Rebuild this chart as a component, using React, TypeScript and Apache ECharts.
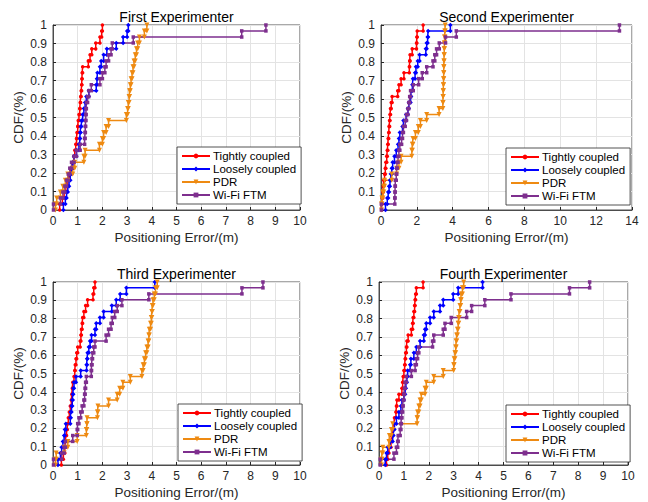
import React, { useEffect, useRef } from "react";
import * as echarts from "echarts";

// CDF levels (31 samples per method)
const cdfLevels = [0.032, 0.065, 0.097, 0.129, 0.161, 0.194, 0.226, 0.258, 0.29, 0.323, 0.355, 0.387, 0.419, 0.452, 0.484, 0.516, 0.548, 0.581, 0.613, 0.645, 0.677, 0.71, 0.742, 0.774, 0.806, 0.839, 0.871, 0.903, 0.935, 0.968, 1.0];

const methodNames = ["Tightly coupled", "Loosely coupled", "PDR", "Wi-Fi FTM"];
const titles = ["First Experimenter", "Second Experimenter", "Third Experimenter", "Fourth Experimenter"];
const xMaxes = [10, 14, 10, 10];
const xIntervals = [1, 2, 1, 1];

// Sorted positioning errors (m) for each experimenter
const s1Tight = [0.27, 0.38, 0.45, 0.52, 0.6, 0.66, 0.72, 0.8, 0.84, 0.88, 0.92, 0.95, 0.97, 1.0, 1.02, 1.05, 1.08, 1.1, 1.12, 1.14, 1.16, 1.17, 1.18, 1.2, 1.43, 1.5, 1.57, 1.73, 1.9, 1.97, 2.0];
const s1Loose = [0.42, 0.5, 0.55, 0.6, 0.65, 0.7, 0.75, 0.8, 0.85, 0.95, 1.05, 1.08, 1.1, 1.12, 1.15, 1.2, 1.25, 1.3, 1.35, 1.45, 1.75, 1.78, 1.8, 1.9, 1.95, 2.05, 2.18, 2.56, 2.84, 3.0, 3.05];
const s1Pdr = [0.1, 0.15, 0.3, 0.4, 0.5, 0.6, 0.8, 0.88, 1.25, 1.3, 1.88, 2.0, 2.05, 2.15, 2.25, 2.97, 3.02, 3.05, 3.08, 3.1, 3.13, 3.16, 3.2, 3.24, 3.28, 3.33, 3.38, 3.43, 3.5, 3.7, 3.8];
const s1Ftm = [0.02, 0.3, 0.4, 0.48, 0.55, 0.62, 0.68, 0.75, 0.85, 0.95, 1.1, 1.28, 1.3, 1.31, 1.32, 1.33, 1.34, 1.35, 1.4, 1.45, 1.55, 1.9, 2.0, 2.1, 2.15, 2.25, 2.35, 2.4, 3.25, 7.64, 8.62];

const s2Tight = [0.03, 0.06, 0.1, 0.13, 0.15, 0.2, 0.24, 0.27, 0.32, 0.35, 0.38, 0.4, 0.43, 0.45, 0.48, 0.5, 0.53, 0.57, 0.62, 0.93, 1.0, 1.12, 1.28, 1.58, 1.6, 1.62, 1.74, 1.98, 2.0, 2.02, 2.35];
const s2Loose = [0.25, 0.35, 0.4, 0.45, 0.5, 0.55, 0.6, 0.65, 0.75, 0.85, 0.95, 1.0, 1.05, 1.2, 1.25, 1.4, 1.5, 1.55, 1.65, 1.68, 1.75, 1.78, 1.9, 1.95, 2.05, 2.15, 2.5, 2.55, 2.6, 2.63, 3.87];
const s2Pdr = [0.03, 0.05, 0.1, 0.15, 0.2, 0.6, 0.87, 1.0, 1.12, 1.72, 1.75, 1.78, 1.92, 2.08, 2.2, 2.55, 3.24, 3.45, 3.46, 3.47, 3.48, 3.49, 3.5, 3.5, 3.51, 3.52, 3.53, 3.54, 3.55, 3.56, 3.58];
const s2Ftm = [0.02, 0.77, 0.78, 0.79, 0.8, 0.85, 0.88, 0.9, 0.95, 1.0, 1.05, 1.15, 1.2, 1.25, 1.35, 1.42, 1.5, 1.55, 1.6, 1.65, 1.8, 2.1, 2.3, 2.55, 2.9, 3.0, 3.1, 3.25, 3.6, 4.2, 13.3];

const s3Tight = [0.34, 0.42, 0.48, 0.5, 0.52, 0.55, 0.58, 0.62, 0.66, 0.7, 0.74, 0.76, 0.78, 0.8, 0.85, 0.88, 0.9, 0.93, 0.96, 1.0, 1.1, 1.13, 1.15, 1.18, 1.2, 1.25, 1.32, 1.4, 1.62, 1.65, 1.7];
const s3Loose = [0.2, 0.3, 0.35, 0.4, 0.45, 0.48, 0.52, 0.7, 0.72, 0.75, 0.78, 0.8, 0.82, 0.85, 0.93, 1.12, 1.36, 1.38, 1.4, 1.45, 1.5, 1.56, 1.7, 1.75, 1.9, 2.05, 2.38, 2.56, 2.72, 2.97, 4.12];
const s3Pdr = [0.1, 0.13, 0.45, 0.6, 0.98, 1.35, 1.37, 1.38, 1.8, 1.82, 2.25, 2.6, 2.7, 2.83, 3.13, 3.6, 3.65, 3.7, 3.75, 3.8, 3.85, 3.88, 3.9, 3.95, 3.98, 4.0, 4.02, 4.05, 4.1, 4.15, 4.22];
const s3Ftm = [0.02, 0.35, 0.45, 0.5, 0.8, 0.98, 1.0, 1.05, 1.12, 1.18, 1.25, 1.28, 1.3, 1.32, 1.35, 1.55, 1.56, 1.58, 1.6, 1.65, 1.7, 2.15, 2.25, 2.35, 2.4, 2.5, 2.6, 2.79, 3.88, 7.65, 8.5];

const s4Tight = [0.3, 0.35, 0.4, 0.48, 0.5, 0.55, 0.6, 0.62, 0.68, 0.7, 0.72, 0.8, 0.92, 0.95, 0.97, 1.0, 1.03, 1.05, 1.07, 1.1, 1.12, 1.17, 1.3, 1.35, 1.37, 1.4, 1.43, 1.45, 1.47, 1.5, 1.77];
const s4Loose = [0.25, 0.3, 0.35, 0.45, 0.55, 0.58, 0.62, 0.7, 0.8, 0.88, 0.92, 1.0, 1.05, 1.08, 1.12, 1.15, 1.25, 1.28, 1.4, 1.5, 1.65, 1.8, 1.85, 1.9, 2.05, 2.2, 2.45, 2.58, 2.98, 3.18, 4.16];
const s4Pdr = [0.1, 0.12, 0.15, 0.4, 0.42, 0.5, 0.55, 1.53, 1.55, 1.6, 1.65, 1.7, 1.85, 1.9, 2.2, 2.58, 3.0, 3.02, 3.05, 3.08, 3.1, 3.12, 3.15, 3.18, 3.2, 3.22, 3.25, 3.28, 3.3, 3.35, 3.4];
const s4Ftm = [0.05, 0.6, 0.7, 0.75, 0.77, 0.85, 0.88, 0.9, 0.92, 0.95, 0.97, 1.0, 1.02, 1.05, 1.1, 1.3, 1.45, 1.5, 1.55, 1.6, 2.15, 2.2, 2.58, 2.65, 2.9, 3.52, 3.72, 4.25, 5.3, 7.65, 8.46];

const experiments = [
  [s1Tight, s1Loose, s1Pdr, s1Ftm],
  [s2Tight, s2Loose, s2Pdr, s2Ftm],
  [s3Tight, s3Loose, s3Pdr, s3Ftm],
  [s4Tight, s4Loose, s4Pdr, s4Ftm],
];

const FONT = "'Liberation Sans', Arial, Helvetica, sans-serif";
const TEXT = "#262626";
const colors = ["#ff0000", "#0000ff", "#ee8a12", "#7e2f8e"];
const symbols = ["circle", "diamond", "triangle", "rect"];
const symbolSizes = [3.5, 4.5, 5, 3.5];
const symbolRotates = [0, 0, 180, 0];

const grids = [
  { left: 53, top: 25, width: 247, height: 185 },
  { left: 381, top: 25, width: 251, height: 185 },
  { left: 53, top: 282, width: 247, height: 183 },
  { left: 379, top: 282, width: 249, height: 183 },
];
const legendPos = [
  { left: 177, top: 147 },
  { left: 506, top: 148 },
  { left: 178, top: 404 },
  { left: 506, top: 405 },
];

function stairs(xs: number[]): number[][] {
  const pts: number[][] = [[xs[0], 0]];
  xs.forEach((x, i) => {
    if (i > 0) pts.push([x, cdfLevels[i - 1]]);
    pts.push([x, cdfLevels[i]]);
  });
  return pts;
}

function fmtY(v: number) {
  if (Math.abs(v) < 1e-9) return "0";
  if (Math.abs(v - 1) < 1e-9) return "1";
  return v.toFixed(1);
}

export default function App() {
  const ref = useRef<HTMLDivElement>(null);
  useEffect(() => {
    if (!ref.current) return;
    const chart = echarts.init(ref.current, undefined, { renderer: "svg" });
    const series: any[] = [];
    experiments.forEach((exp, gi) => {
      exp.forEach((xs, mi) => {
        series.push({
          type: "line",
          name: methodNames[mi],
          xAxisIndex: gi,
          yAxisIndex: gi,
          data: stairs(xs),
          symbol: symbols[mi],
          symbolSize: symbolSizes[mi],
          symbolRotate: symbolRotates[mi],
          showSymbol: true,
          clip: true,
          lineStyle: { color: colors[mi], width: 1.5 },
          itemStyle: { color: colors[mi], borderWidth: 0 },
          emphasis: { disabled: true },
        });
      });
    });
    const option: any = {
      animation: false,
      backgroundColor: "#ffffff",
      textStyle: { fontFamily: FONT },
      grid: grids.map((g) => ({ ...g, show: true, borderColor: "#262626", borderWidth: 0.8, backgroundColor: "#ffffff" })),
      xAxis: grids.map((_, gi) => ({
        type: "value",
        gridIndex: gi,
        min: 0,
        max: xMaxes[gi],
        interval: xIntervals[gi],
        name: "Positioning Error/(m)",
        nameLocation: "middle",
        nameGap: 20,
        nameTextStyle: { fontSize: 13.5, color: TEXT, fontFamily: FONT },
        axisLine: { show: true, lineStyle: { color: "#262626", width: 0.8 } },
        axisTick: { show: true, inside: true, length: 3, lineStyle: { color: "#262626" } },
        axisLabel: { fontSize: 12, color: TEXT, margin: 5, fontFamily: FONT },
        splitLine: { show: true, lineStyle: { color: "#e3e3e3", width: 1 } },
      })),
      yAxis: grids.map((_, gi) => ({
        type: "value",
        gridIndex: gi,
        min: 0,
        max: 1,
        interval: 0.1,
        name: "CDF/(%)",
        nameLocation: "middle",
        nameGap: 28,
        nameTextStyle: { fontSize: 13.5, color: TEXT, fontFamily: FONT },
        axisLine: { show: true, lineStyle: { color: "#262626", width: 0.8 } },
        axisTick: { show: true, inside: true, length: 3, lineStyle: { color: "#262626" } },
        axisLabel: { fontSize: 12, color: TEXT, margin: 6, fontFamily: FONT, formatter: fmtY },
        splitLine: { show: true, lineStyle: { color: "#e3e3e3", width: 1 } },
      })),
      legend: legendPos.map((p) => ({
        ...p,
        orient: "vertical",
        data: methodNames,
        itemWidth: 28,
        itemHeight: 6,
        itemGap: 1,
        padding: [3, 5, 3, 4],
        borderColor: "#262626",
        borderWidth: 0.8,
        backgroundColor: "#ffffff",
        selectedMode: false,
        textStyle: { fontSize: 11.5, color: "#000", fontFamily: FONT, padding: [0, 0, 0, -2] },
      })),
      graphic: grids.map((g, gi) => ({
        type: "text",
        x: g.left + g.width / 2,
        y: g.top - 8,
        style: {
          text: titles[gi],
          fill: "#000",
          font: `14px ${FONT}`,
          textAlign: "center",
          textVerticalAlign: "middle",
        },
      })),
      series,
    };
    chart.setOption(option);
    return () => chart.dispose();
  }, []);
  return <div ref={ref} style={{ position: "absolute", left: 0, top: 0, width: 648, height: 502 }} />;
}
